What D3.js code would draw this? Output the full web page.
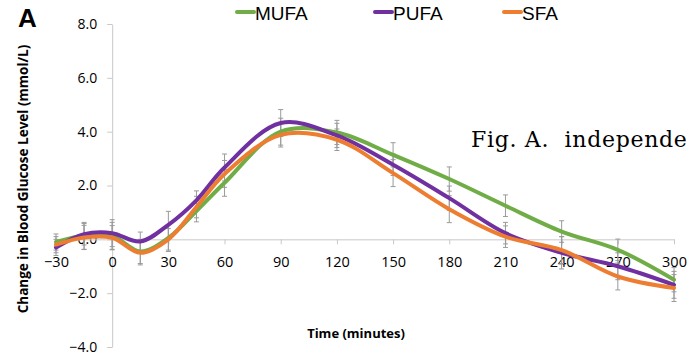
<!DOCTYPE html>
<html>
<head>
<meta charset="utf-8">
<script src="https://cdn.jsdelivr.net/npm/d3@7"></script>
<style>
  html, body { margin: 0; padding: 0; background: #fff; }
  svg { display: block; }
</style>
</head>
<body>
<svg id="chart" width="689" height="357"></svg>
<script>
// ---- data ----
const times = [-30, -15, 0, 15, 30, 45, 60, 90, 120, 150, 180, 210, 240, 270, 300];
const mufa = [-0.1, 0.13, 0.13, -0.45, 0.05, 1.05, 2.1, 4.0, 3.97, 3.14, 2.24, 1.25, 0.29, -0.39, -1.5];
const pufa = [-0.3, 0.19, 0.23, -0.08, 0.54, 1.45, 2.67, 4.32, 3.86, 2.77, 1.53, 0.23, -0.5, -1.0, -1.69];
const sfa  = [-0.2, 0.07, 0.06, -0.5, 0.0, 1.2, 2.43, 3.88, 3.7, 2.46, 1.12, 0.1, -0.4, -1.38, -1.81];
const mufaErr = [0.3, 0.5, 0.5, 0.45, 0.5, 0.4, 0.5, 0.5, 0.45, 0.45, 0.45, 0.4, 0.4, 0.4, 0.45];
const pufaErr = [0.3, 0.4, 0.5, 0.35, 0.5, 0.35, 0.5, 0.5, 0.45, 0.4, 0.45, 0.4, 0.6, 0.5, 0.5];
const sfaErr  = [0.3, 0.45, 0.45, 0.45, 0.4, 0.4, 0.5, 0.45, 0.4, 0.5, 0.5, 0.4, 0.5, 0.5, 0.5];
const seriesNames = ["MUFA", "PUFA", "SFA"];
const xTicks = [-30, 0, 30, 60, 90, 120, 150, 180, 210, 240, 270, 300];
const yTicks = [-4, -2, 0, 2, 4, 6, 8];

const colors = {MUFA: "#70ad47", PUFA: "#7030a0", SFA: "#ed7d31"};
const series = [
  {name: "MUFA", values: mufa, err: mufaErr},
  {name: "PUFA", values: pufa, err: pufaErr},
  {name: "SFA",  values: sfa,  err: sfaErr}
];

const svg = d3.select("#chart");
const x = d3.scaleLinear().domain([-30, 300]).range([56, 674]);
const y = d3.scaleLinear().domain([-4, 8]).range([347, 24]);
const axisColor = "#c8c8c8";
const tickFont = "'Open Sans', sans-serif";

// Y axis at x=0
const yAxisG = svg.append("g").attr("transform", `translate(${x(0)},0)`)
  .call(d3.axisLeft(y).tickValues(yTicks).tickFormat(d3.format(".1f")).tickSize(5).tickSizeOuter(0).tickPadding(10));
yAxisG.select(".domain").attr("stroke", axisColor);
yAxisG.selectAll(".tick line").attr("stroke", axisColor);
yAxisG.selectAll(".tick text").attr("font-family", tickFont).attr("font-size", 14).attr("fill", "#000");

// X axis at y=0
const xAxisG = svg.append("g").attr("transform", `translate(0,${y(0)})`)
  .call(d3.axisBottom(x).tickValues(xTicks).tickFormat(d3.format("d")).tickSize(5).tickSizeOuter(0).tickPadding(12));
xAxisG.select(".domain").attr("stroke", axisColor);
xAxisG.selectAll(".tick line").attr("stroke", axisColor);
xAxisG.selectAll(".tick text").attr("font-family", tickFont).attr("font-size", 14.5).attr("fill", "#000");

// error bars
const errG = svg.append("g");
series.forEach(s => {
  times.forEach((t, i) => {
    const cx = x(t), y1 = y(s.values[i] + s.err[i]), y2 = y(s.values[i] - s.err[i]);
    errG.append("line").attr("x1", cx).attr("x2", cx).attr("y1", y1).attr("y2", y2)
      .attr("stroke", "#9a9a9a").attr("stroke-width", 1);
    [y1, y2].forEach(yy => errG.append("line").attr("x1", cx - 2.5).attr("x2", cx + 2.5)
      .attr("y1", yy).attr("y2", yy).attr("stroke", "#9a9a9a").attr("stroke-width", 1));
  });
});

// lines
const line = d3.line().x((d, i) => x(times[i])).y(d => y(d)).curve(d3.curveCatmullRom.alpha(0.5));
series.forEach(s => {
  svg.append("path").attr("d", line(s.values)).attr("fill", "none")
    .attr("stroke", colors[s.name]).attr("stroke-width", 4).attr("stroke-linecap", "round");
});

// legend
const legendX = [237, 375, 504];
seriesNames.forEach((n, i) => {
  svg.append("line").attr("x1", legendX[i]).attr("x2", legendX[i] + 17).attr("y1", 12).attr("y2", 12)
    .attr("stroke", colors[n]).attr("stroke-width", 4).attr("stroke-linecap", "round");
  svg.append("text").attr("x", legendX[i] + 18).attr("y", 19.5).text(n)
    .attr("font-family", "'Liberation Sans', Arial, sans-serif").attr("font-size", 19).attr("fill", "#000");
});

// titles
svg.append("text").attr("transform", "translate(27.5,179) rotate(-90)").attr("text-anchor", "middle")
  .text("Change in Blood Glucose Level (mmol/L)")
  .attr("font-family", tickFont).attr("font-weight", "bold").attr("font-size", 13.5).attr("fill", "#000");
svg.append("text").attr("x", 356).attr("y", 338).attr("text-anchor", "middle")
  .text("Time (minutes)")
  .attr("font-family", tickFont).attr("font-weight", "bold").attr("font-size", 13).attr("fill", "#000");

svg.append("text").attr("x", 18).attr("y", 27).text("A")
  .attr("font-family", "'Liberation Sans', Arial, sans-serif").attr("font-weight", "bold").attr("font-size", 26).attr("fill", "#000");

svg.append("text").attr("x", 471).attr("y", 147).text("Fig. A.  independe")
  .style("white-space", "pre").attr("letter-spacing", 0.7)
  .attr("font-family", "'DejaVu Serif', serif").attr("font-size", 22).attr("fill", "#000");
</script>
</body>
</html>
